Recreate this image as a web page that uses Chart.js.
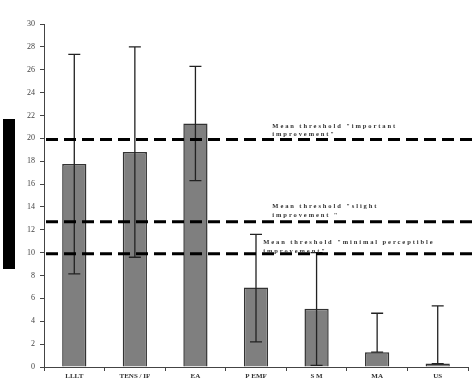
<!DOCTYPE html>
<html>
<head>
<meta charset="utf-8">
<script src="https://cdn.jsdelivr.net/npm/chart.js@4.4.0/dist/chart.umd.min.js"></script>
<style>
  html, body { margin: 0; padding: 0; background: #fff; }
  #wrap { width: 472px; height: 380px; }
</style>
</head>
<body>
<div id="wrap"><canvas id="chart" width="472" height="380"></canvas></div>
<script>
const categories = ['LLLT', 'TENS / IF', 'EA', 'P EMF', 'S M', 'MA', 'US']
const means = [17.75, 18.8, 21.3, 6.95, 5.1, 1.3, 0.3]
const errLow = [8.15, 9.6, 16.3, 2.2, 0.15, 1.3, 0.3]
const errHigh = [27.35, 28.0, 26.3, 11.6, 10.0, 4.7, 5.35]
const thresholds = [19.9, 12.7, 9.9]
const thresholdLabels = [
  ['Mean threshold "important', 'improvement"'],
  ['Mean threshold "slight', 'improvement "'],
  ['Mean threshold "minimal perceptible', 'improvement"']
]
const yTicks = [0, 2, 4, 6, 8, 10, 12, 14, 16, 18, 20, 22, 24, 26, 28, 30]

const serif = '"Liberation Serif", "DejaVu Serif", serif'

// error bars, threshold lines and their notes
const overlay = {
  id: 'overlay',
  afterDatasetsDraw(chart) {
    const ctx = chart.ctx
    const x = chart.scales.x
    const y = chart.scales.y
    const area = chart.chartArea
    ctx.save()

    // error bars
    ctx.strokeStyle = '#222'
    ctx.lineWidth = 1.3
    means.forEach((m, i) => {
      const px = x.getPixelForValue(i)
      const top = y.getPixelForValue(errHigh[i])
      const bot = y.getPixelForValue(errLow[i])
      ctx.beginPath()
      ctx.moveTo(px, top); ctx.lineTo(px, bot)
      ctx.moveTo(px - 6, top); ctx.lineTo(px + 6, top)
      ctx.moveTo(px - 6, bot); ctx.lineTo(px + 6, bot)
      ctx.stroke()
    })

    // threshold lines
    ctx.strokeStyle = '#000'
    ctx.lineWidth = 3
    ctx.setLineDash([12, 6])
    thresholds.forEach(t => {
      const py = y.getPixelForValue(t)
      ctx.beginPath()
      ctx.moveTo(area.left + 2, py)
      ctx.lineTo(chart.width, py)
      ctx.stroke()
    })
    ctx.setLineDash([])

    // notes
    ctx.fillStyle = '#333'
    ctx.font = 'bold 6.5px ' + serif
    ctx.letterSpacing = '1.9px'
    ctx.textBaseline = 'middle'
    const noteX = [x.getPixelForValue(3.27), x.getPixelForValue(3.27), x.getPixelForValue(3.12)]
    const noteOff = [-13, -15, -11]
    thresholds.forEach((t, i) => {
      const py = y.getPixelForValue(t) + noteOff[i]
      thresholdLabels[i].forEach((line, j) => {
        ctx.fillText(line, noteX[i], py + j * 8.3)
      })
    })

    // blacked-out axis title
    ctx.fillStyle = '#000'
    ctx.fillRect(3, 119, 12, 150)
    ctx.restore()
  }
}

new Chart(document.getElementById('chart'), {
  type: 'bar',
  data: {
    labels: categories,
    datasets: [{
      data: means,
      backgroundColor: '#7f7f7f',
      borderColor: '#333',
      borderWidth: 1.5,
      barPercentage: 0.4,
      categoryPercentage: 1.0
    }]
  },
  options: {
    responsive: false,
    animation: false,
    layout: { padding: { top: 24, right: 4, left: 0, bottom: 0 } },
    plugins: { legend: { display: false }, tooltip: { enabled: false } },
    scales: {
      x: {
        grid: { offset: true, drawOnChartArea: false, drawTicks: true, tickLength: 4, color: '#444' },
        border: { color: '#444', width: 1 },
        ticks: { color: '#333', font: { family: serif, size: 7, weight: 'bold' }, padding: 1 },
        afterFit(scale) { scale.height = 13 }
      },
      y: {
        min: 0, max: 30,
        afterBuildTicks(scale) { scale.ticks = yTicks.map(v => ({ value: v })) },
        grid: { drawOnChartArea: false, drawTicks: true, tickLength: 4, color: '#444' },
        border: { color: '#444', width: 1 },
        ticks: { color: '#444', font: { family: serif, size: 8 }, padding: 5 },
        afterFit(scale) { scale.width = 44 }
      }
    }
  },
  plugins: [overlay]
})
</script>
</body>
</html>
